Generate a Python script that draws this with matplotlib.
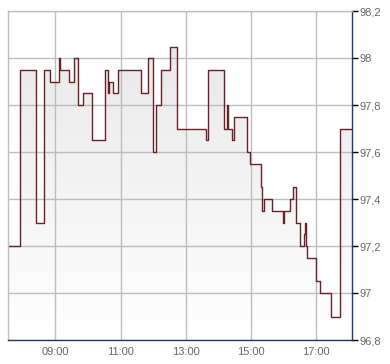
import matplotlib
matplotlib.use("Agg")
import matplotlib.pyplot as plt
import numpy as np
from matplotlib.ticker import FuncFormatter, FixedLocator

times = ["07:33:34", "07:54:25", "08:25:04", "08:39:46", "08:50:48", "09:06:00",
         "09:09:00", "09:26:00", "09:35:00", "09:42:00", "09:51:30", "10:08:00",
         "10:31:00", "10:37:30", "10:39:20", "10:46:40", "10:56:00", "11:38:00",
         "11:51:00", "12:00:00", "12:06:00", "12:14:00", "12:30:00", "12:44:00",
         "13:38:00", "13:41:00", "14:11:00", "14:16:00", "14:17:00", "14:25:30",
         "14:29:00", "14:52:00", "14:58:40", "15:17:40", "15:19:30", "15:24:20",
         "15:38:00", "15:59:20", "16:00:15", "16:12:00", "16:17:40", "16:23:15",
         "16:30:35", "16:38:00", "16:39:45", "16:41:00", "16:43:30", "16:58:50",
         "17:06:45", "17:27:00", "17:43:30"]
prices = [97.20, 97.95, 97.30, 97.95, 97.90, 98.00,
          97.95, 97.90, 98.00, 97.80, 97.85, 97.65,
          97.95, 97.85, 97.90, 97.85, 97.95, 97.85,
          98.00, 97.60, 97.80, 97.95, 98.05, 97.70,
          97.65, 97.95, 97.70, 97.80, 97.70, 97.65,
          97.75, 97.60, 97.55, 97.45, 97.35, 97.40,
          97.35, 97.30, 97.35, 97.40, 97.45, 97.30,
          97.20, 97.25, 97.30, 97.20, 97.15, 97.05,
          97.00, 96.90, 97.70]
end_time = "18:06:13"
x_ticks = ["09:00", "11:00", "13:00", "15:00", "17:00"]
y_ticks = [96.8, 97.0, 97.2, 97.4, 97.6, 97.8, 98.0, 98.2]


def to_hours(s):
    parts = [int(p) for p in s.split(":")]
    while len(parts) < 3:
        parts.append(0)
    return parts[0] + parts[1] / 60 + parts[2] / 3600


x = np.array([to_hours(t) for t in times] + [to_hours(end_time)])
y = np.array(prices + [prices[-1]])

W, H = 390, 364
fig = plt.figure(figsize=(W / 100, H / 100), dpi=100)
ax = fig.add_axes([8.33 / W, 24 / H, (352.33 - 8.33) / W, (340 - 11.33) / H])

ymin, ymax = y_ticks[0], y_ticks[-1]
xmin, xmax = x[0], x[-1]
ax.set_xlim(xmin, xmax)
ax.set_ylim(ymin, ymax)

# gradient fill under the step line
poly = ax.fill_between(x, y, ymin, step="post", facecolor="none", edgecolor="none")
grad = np.linspace(0, 1, 256).reshape(-1, 1)
from matplotlib.colors import LinearSegmentedColormap
cmap = LinearSegmentedColormap.from_list("g", ["#ffffff", "#e6e6e6"])
im = ax.imshow(grad, extent=[xmin, xmax, ymin, ymax], origin="lower",
               aspect="auto", cmap=cmap, zorder=1)
path = poly.get_paths()[0]
import matplotlib.patches as mpatches
clip = mpatches.PathPatch(path, transform=ax.transData, facecolor="none", edgecolor="none")
ax.add_patch(clip)
im.set_clip_path(clip)

ax.step(x, y, where="post", color="#6b1f24", lw=1.0, zorder=3)

# grid
ax.xaxis.set_major_locator(FixedLocator([to_hours(t) for t in x_ticks]))
ax.set_xticklabels(x_ticks)
ax.yaxis.set_major_locator(FixedLocator(y_ticks))
ax.yaxis.set_major_formatter(FuncFormatter(lambda v, p: (f"{v:.1f}".rstrip("0").rstrip(".")).replace(".", ",")))
ax.grid(True, color="#bdbdbd", lw=1.0, zorder=2)
ax.set_axisbelow(False)
for gl in ax.get_xgridlines() + ax.get_ygridlines():
    gl.set_zorder(2)

ax.yaxis.tick_right()
ax.tick_params(axis="y", which="major", length=4, width=1, color="#000000",
               labelcolor="#666666", labelsize=8, pad=1)
ax.tick_params(axis="x", which="major", length=0, labelcolor="#666666", labelsize=8, pad=5)
for lab in ax.get_xticklabels() + ax.get_yticklabels():
    lab.set_family(["Liberation Sans", "DejaVu Sans"])

navy = "#1c3a6b"
ax.spines["bottom"].set_color(navy)
ax.spines["right"].set_color(navy)
ax.spines["left"].set_color("#bdbdbd")
ax.spines["top"].set_color("#bdbdbd")
for s in ax.spines.values():
    s.set_linewidth(1.0)
    s.set_zorder(4)

fig.savefig("out.png", dpi=100, facecolor="white")
